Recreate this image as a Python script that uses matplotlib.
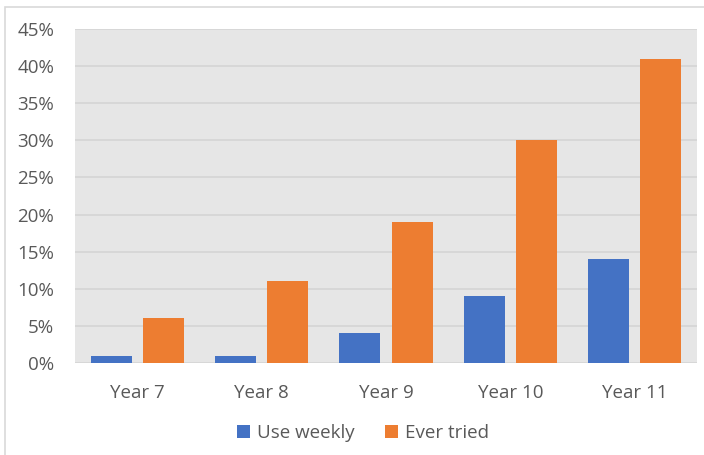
import numpy as np
import matplotlib.pyplot as plt
from matplotlib.patches import Rectangle

years = ['Year 7', 'Year 8', 'Year 9', 'Year 10', 'Year 11']
use_weekly = [1, 1, 4, 9, 14]
ever_tried = [6, 11, 19, 30, 41]

plt.rcParams['font.family'] = ['Open Sans', 'DejaVu Sans']
txt = '#595959'

fig = plt.figure(figsize=(7.04, 4.55), dpi=100)
# outer chart frame
fig.patches.append(Rectangle((5 / 704, -0.01), 1.0, 1 - 7 / 455 + 0.01,
                             transform=fig.transFigure, fill=False,
                             edgecolor='#d9d9d9', lw=1.2))

ax = fig.add_axes([75 / 704, 92 / 455, 622 / 704, 334 / 455])
ax.set_facecolor('#e6e6e6')

x = np.arange(len(years))
w = 0.33
ax.bar(x - 0.21, use_weekly, w, color='#4472c4', label='Use weekly', zorder=3)
ax.bar(x + 0.21, ever_tried, w, color='#ed7d31', label='Ever tried', zorder=3)

ax.set_xlim(-0.5, len(years) - 0.5)
ax.set_ylim(0, 45)
ax.set_yticks(range(0, 46, 5))
ax.set_yticklabels([f'{v}%' for v in range(0, 46, 5)])
ax.set_xticks(x)
ax.set_xticklabels(years)
ax.yaxis.grid(True, color='#d4d4d4', lw=1.2, zorder=0)
ax.tick_params(axis='both', length=0, labelsize=13.5, labelcolor=txt)
ax.tick_params(axis='y', pad=15)
ax.tick_params(axis='x', pad=15)
for s in ax.spines.values():
    s.set_visible(False)

fig.legend(loc='center', bbox_to_anchor=(363 / 704, 1 - 433 / 455), ncol=2,
           frameon=False, fontsize=13.5, labelcolor=txt, handlelength=0.7,
           handleheight=0.7, handletextpad=0.4, columnspacing=1.6)

fig.savefig('out.png', dpi=100)
